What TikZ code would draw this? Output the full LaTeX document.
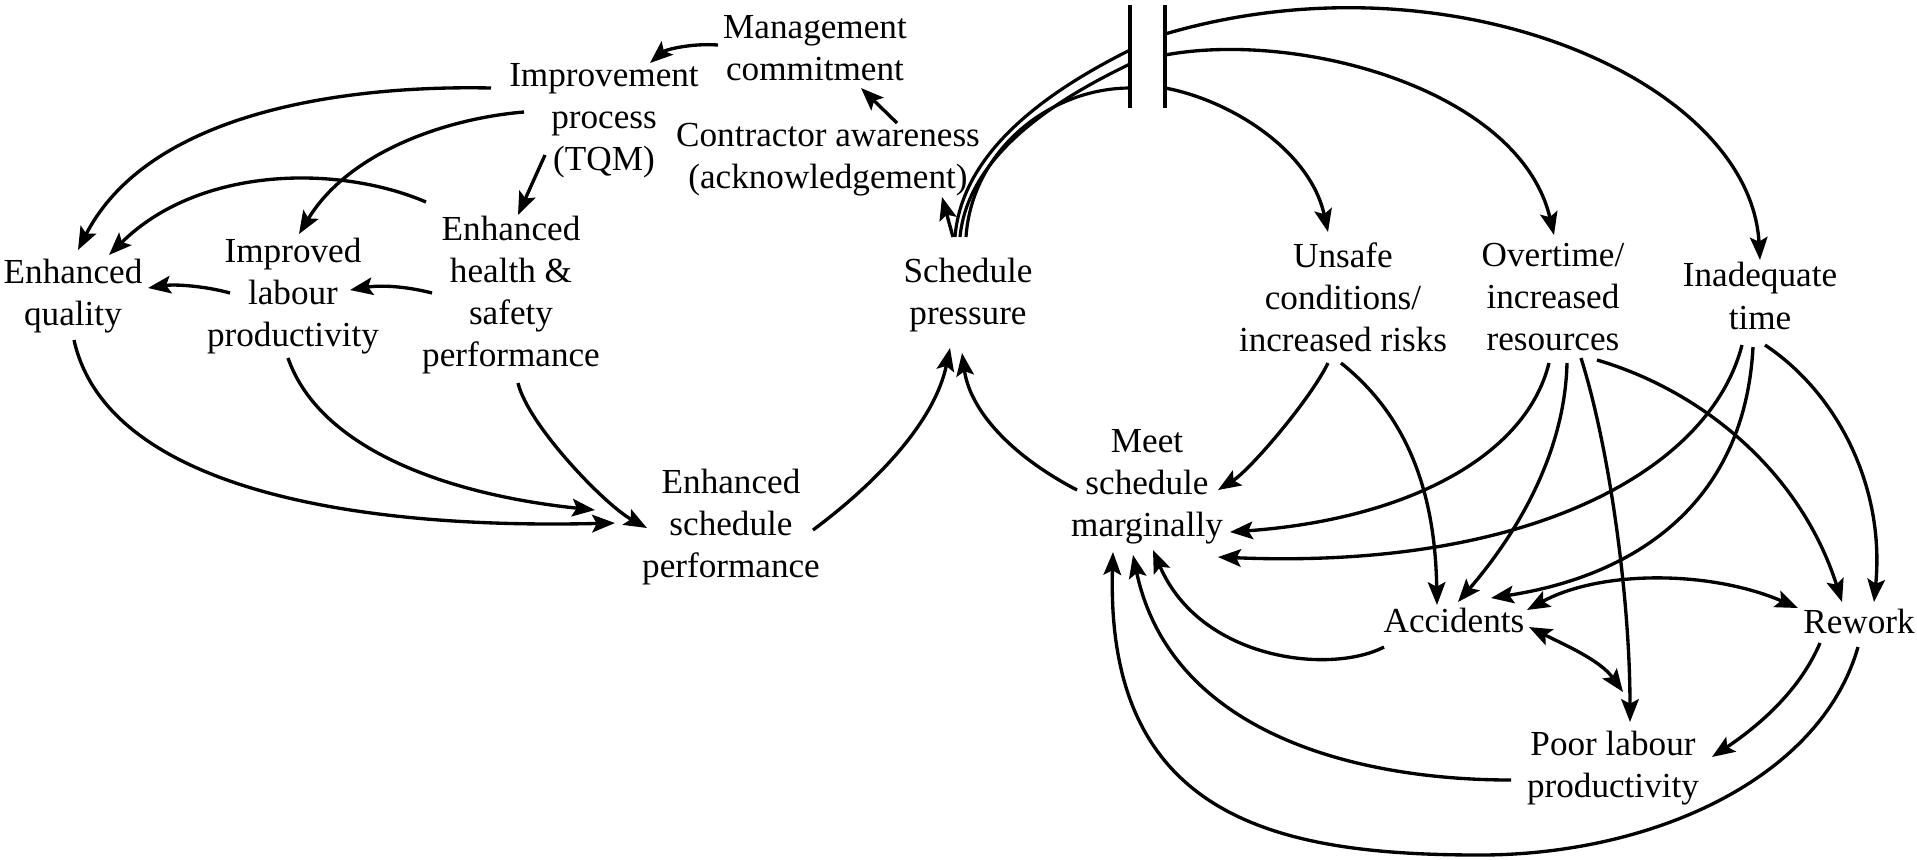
\documentclass[tikz,border=0pt]{standalone}
\usepackage{fontspec}
\setmainfont{Liberation Serif}
\usetikzlibrary{arrows.meta}
\begin{document}
\begin{tikzpicture}[x=0.01cm,y=-0.01cm,
  lbl/.style={align=center,inner sep=0pt,font=\fontsize{10}{12}\selectfont},
  tip/.tip={Stealth[length=6.5pt,width=5pt,inset=1.3pt]},
  arr/.style={-tip,line width=0.95pt},
  darr/.style={tip-tip,line width=0.95pt},
  ln/.style={line width=0.9pt}]
\useasboundingbox (0,0) rectangle (1917,859);
% nodes
\node[lbl] (mc) at (815,48) {Management\\commitment};
\node[lbl] (ip) at (604,121) {Improvement\\process\\(TQM)};
\node[lbl] (ca) at (828,160) {Contractor awareness\\(acknowledgement)};
\node[lbl] (eq) at (73,296) {Enhanced\\quality};
\node[lbl] (il) at (293,296) {Improved\\labour\\productivity};
\node[lbl] (eh) at (511,295) {Enhanced\\health \&\\safety\\performance};
\node[lbl] (esp) at (731,527) {Enhanced\\schedule\\performance};
\node[lbl] (sp) at (968,295) {Schedule\\pressure};
\node[lbl] (uc) at (1343,297) {Unsafe\\conditions/\\increased risks};
\node[lbl] (ot) at (1553,297) {Overtime/\\increased\\resources};
\node[lbl] (it) at (1760,296) {Inadequate\\time};
\node[lbl] (ms) at (1147,487) {Meet\\schedule\\marginally};
\node[lbl] (ac) at (1454,620) {Accidents};
\node[lbl] (rw) at (1859,621) {Rework};
\node[lbl] (pl) at (1613,768) {Poor labour\\productivity};
% break bars
\coordinate (blt) at (1130,5);
\coordinate (blb) at (1130,108);
\coordinate (brt) at (1165,5);
\coordinate (brb) at (1165,108);
\draw[ln] (blt) -- (blb);
\draw[ln] (brt) -- (brb);
% top links
\draw[arr] ([shift={(-97,-3)}]mc.center) .. controls (690,43) and (665,50) .. ([shift={(46,-58)}]ip.center);
\draw[arr] ([shift={(69,-37)}]ca.center) -- ([shift={(46,40)}]mc.center);
\draw[arr] ([shift={(-15,-58)}]sp.center) -- ([shift={(114,37)}]ca.center);
% schedule pressure arcs through the break
\draw[ln] ([shift={(-13,-58)}]sp.center) .. controls (962,150) and (1050,90) .. ([shift={(0,45)}]blt);
\draw[ln] ([shift={(-8,-58)}]sp.center) .. controls (968,155) and (1055,100) .. ([shift={(0,59)}]blt);
\draw[ln] ([shift={(-2,-58)}]sp.center) .. controls (972,150) and (1050,88) .. ([shift={(0,83)}]blt);
\draw[arr] ([shift={(0,29)}]brt) .. controls (1450,-50) and (1750,80) .. ([shift={(0,-36)}]it.center);
\draw[arr] ([shift={(0,50)}]brt) .. controls (1300,30) and (1520,90) .. ([shift={(1,-62)}]ot.center);
\draw[arr] ([shift={(0,83)}]brt) .. controls (1230,100) and (1310,150) .. ([shift={(-15,-65)}]uc.center);
% left part
\draw[arr] ([shift={(-113,-33)}]ip.center) .. controls (350,85) and (150,110) .. ([shift={(5,-46)}]eq.center);
\draw[arr] ([shift={(-80,-9)}]ip.center) .. controls (450,118) and (350,150) .. ([shift={(6,-62)}]il.center);
\draw[arr] ([shift={(-59,34)}]ip.center) -- ([shift={(7,-80)}]eh.center);
\draw[arr] ([shift={(-85,-93)}]eh.center) .. controls (340,165) and (200,165) .. ([shift={(36,-41)}]eq.center);
\draw[arr] ([shift={(-79,-2)}]eh.center) .. controls (405,286) and (380,285) .. ([shift={(57,-6)}]il.center);
\draw[arr] ([shift={(-63,-3)}]il.center) .. controls (205,286) and (175,284) .. ([shift={(75,-8)}]eq.center);
\draw[arr] ([shift={(1,44)}]eq.center) .. controls (105,480) and (330,530) .. ([shift={(-116,-4)}]esp.center);
\draw[arr] ([shift={(-5,62)}]il.center) .. controls (320,450) and (450,495) .. ([shift={(-136,-17)}]esp.center);
\draw[arr] ([shift={(7,88)}]eh.center) .. controls (528,425) and (605,505) .. ([shift={(-84,1)}]esp.center);
\draw[arr] ([shift={(82,3)}]esp.center) .. controls (880,480) and (935,420) .. ([shift={(-18,53)}]sp.center);
% right part
\draw[arr] ([shift={(-70,3)}]ms.center) .. controls (1010,455) and (970,410) .. ([shift={(-6,58)}]sp.center);
\draw[arr] ([shift={(-15,66)}]uc.center) .. controls (1310,400) and (1250,470) .. ([shift={(71,3)}]ms.center);
\draw[arr] ([shift={(-2,66)}]uc.center) .. controls (1400,410) and (1435,480) .. ([shift={(-17,-15)}]ac.center);
\draw[arr] ([shift={(-4,66)}]ot.center) .. controls (1525,460) and (1400,520) .. ([shift={(83,45)}]ms.center);
\draw[arr] ([shift={(14,66)}]ot.center) .. controls (1565,450) and (1520,530) .. ([shift={(4,-18)}]ac.center);
\draw[arr] ([shift={(28,61)}]ot.center) .. controls (1610,450) and (1630,600) .. ([shift={(17,-46)}]pl.center);
\draw[arr] ([shift={(44,63)}]ot.center) .. controls (1700,390) and (1800,470) .. ([shift={(-17,-19)}]rw.center);
\draw[arr] ([shift={(-18,49)}]it.center) .. controls (1710,470) and (1530,570) .. ([shift={(71,70)}]ms.center);
\draw[arr] ([shift={(-7,51)}]it.center) .. controls (1745,500) and (1640,575) .. ([shift={(37,-22)}]ac.center);
\draw[arr] ([shift={(5,49)}]it.center) .. controls (1840,395) and (1885,490) .. ([shift={(15,-19)}]rw.center);
\draw[darr] ([shift={(73,-10)}]ac.center) .. controls (1600,570) and (1710,570) .. ([shift={(-61,-13)}]rw.center);
\draw[darr] ([shift={(75,7)}]ac.center) .. controls (1565,645) and (1600,660) .. ([shift={(10,-76)}]pl.center);
\draw[arr] ([shift={(-70,27)}]ac.center) .. controls (1330,675) and (1200,660) .. ([shift={(6,63)}]ms.center);
\draw[arr] ([shift={(-102,12)}]pl.center) .. controls (1350,780) and (1170,730) .. ([shift={(-14,68)}]ms.center);
\draw[arr] ([shift={(-39,22)}]rw.center) .. controls (1800,690) and (1760,725) .. ([shift={(99,-11)}]pl.center);
\draw[arr] ([shift={(-1,26)}]rw.center) .. controls (1820,780) and (1650,855) .. (1480,855) .. controls (1280,855) and (1105,820) .. ([shift={(-34,65)}]ms.center);
\end{tikzpicture}
\end{document}
